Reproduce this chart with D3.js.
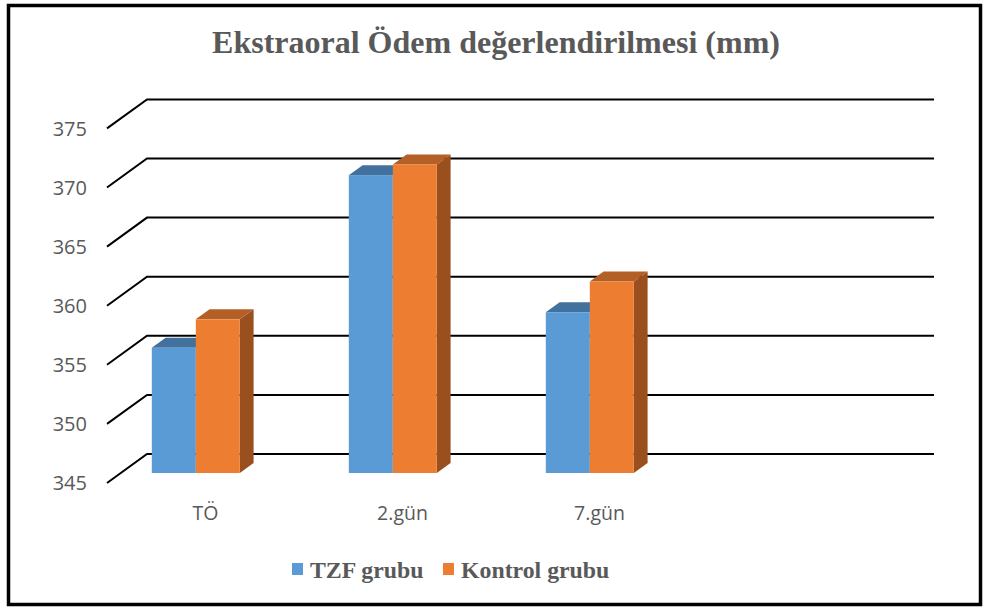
<!DOCTYPE html>
<html>
<head>
<meta charset="utf-8">
<script src="https://cdn.jsdelivr.net/npm/d3@7"></script>
<style>
  body { margin: 0; background: #fff; }
  svg { display: block; }
</style>
</head>
<body>
<div id="chart"></div>
<script>
// data
var categories = ["TÖ", "2.gün", "7.gün"];
var series = ["TZF grubu", "Kontrol grubu"];
var tzf = [355.6, 370.2, 358.6];
var kontrol = [358.0, 371.1, 361.2];
var yTicks = [345, 350, 355, 360, 365, 370, 375];

var width = 984, height = 609;
var colors = { "TZF grubu": ["#5B9BD5", "#41719C", "#3A6590"],
               "Kontrol grubu": ["#ED7D31", "#B35F25", "#9A4F1E"] };

// 3d depth of the floor (back wall offset)
var depthX = 40, depthY = -29;
// bars sit between these fractions of the depth
var barFront = 0.345, barBack = 0.69;

var svg = d3.select("#chart").append("svg")
  .attr("width", width)
  .attr("height", height);

svg.append("rect")
  .attr("x", 8.5).attr("y", 5.5)
  .attr("width", 972).attr("height", 599)
  .attr("fill", "#fff")
  .attr("stroke", "#000")
  .attr("stroke-width", 3.5);

// scales on the front plane
var y = d3.scaleLinear().domain([345, 375]).range([483, 128.4]);
var x = d3.scaleBand().domain(categories).range([107, 107 + 3 * 197]).padding(0);
var xs = d3.scaleBand().domain(series).range([0, 88]);
var gridRight = 934;

// gridlines: diagonal side wall + horizontal back wall
svg.append("g").selectAll("path")
  .data(yTicks)
  .enter().append("path")
  .attr("d", function(t) {
    var y0 = y(t);
    return "M107," + y0 + "L" + (107 + depthX) + "," + (y0 + depthY) + "L" + gridRight + "," + (y0 + depthY);
  })
  .attr("fill", "none")
  .attr("stroke", "#000")
  .attr("stroke-width", 2);

// y tick labels
svg.append("g").selectAll("text")
  .data(yTicks)
  .enter().append("text")
  .attr("x", 87)
  .attr("y", function(t) { return y(t); })
  .attr("dy", "0.36em")
  .attr("text-anchor", "end")
  .style("font-family", "'Open Sans', sans-serif")
  .style("font-size", "20px")
  .style("fill", "#595959")
  .text(function(t) { return t; });

// category labels
svg.append("g").selectAll("text")
  .data(categories)
  .enter().append("text")
  .attr("x", function(c) { return x(c) + x.bandwidth() / 2; })
  .attr("y", 520)
  .attr("text-anchor", "middle")
  .style("font-family", "'Open Sans', sans-serif")
  .style("font-size", "19.5px")
  .style("fill", "#595959")
  .text(function(c) { return c; });

// bars
var barData = [];
categories.forEach(function(c, i) {
  barData.push({ cat: c, s: series[0], v: tzf[i] });
  barData.push({ cat: c, s: series[1], v: kontrol[i] });
});

var fx = depthX * barFront, fy = depthY * barFront;
var bdx = depthX * (barBack - barFront), bdy = depthY * (barBack - barFront);

var bars = svg.append("g").selectAll("g")
  .data(barData)
  .enter().append("g");

bars.each(function(d) {
  var g = d3.select(this);
  var x0 = x(d.cat) + 31 + xs(d.s) + fx;
  var x1 = x0 + xs.bandwidth();
  var yt = y(d.v) + fy, yb = y(345) + fy;
  var c = colors[d.s];
  // side
  g.append("path")
    .attr("d", "M" + x1 + "," + yt + "L" + (x1 + bdx) + "," + (yt + bdy) + "L" + (x1 + bdx) + "," + (yb + bdy) + "L" + x1 + "," + yb + "Z")
    .attr("fill", c[2]);
  // top
  g.append("path")
    .attr("d", "M" + x0 + "," + yt + "L" + (x0 + bdx) + "," + (yt + bdy) + "L" + (x1 + bdx) + "," + (yt + bdy) + "L" + x1 + "," + yt + "Z")
    .attr("fill", c[1]);
  // front
  g.append("rect")
    .attr("x", x0).attr("y", yt)
    .attr("width", xs.bandwidth()).attr("height", yb - yt)
    .attr("fill", c[0]);
});

// title
svg.append("text")
  .attr("x", 496)
  .attr("y", 53)
  .attr("text-anchor", "middle")
  .style("font-family", "'Liberation Serif', 'Times New Roman', serif")
  .style("font-weight", "bold")
  .style("font-size", "32px")
  .style("fill", "#595959")
  .text("Ekstraoral Ödem değerlendirilmesi (mm)");

// legend
var legendX = [292, 443];
var legend = svg.append("g").selectAll("g")
  .data(series)
  .enter().append("g")
  .attr("transform", function(d, i) { return "translate(" + legendX[i] + ",563)"; });
legend.append("rect")
  .attr("width", 11).attr("height", 12)
  .attr("fill", function(d) { return colors[d][0]; });
legend.append("text")
  .attr("x", 18)
  .attr("y", 15)
  .style("font-family", "'Liberation Serif', 'Times New Roman', serif")
  .style("font-weight", "bold")
  .style("font-size", "23.8px")
  .style("fill", "#595959")
  .text(function(d) { return d; });
</script>
</body>
</html>
